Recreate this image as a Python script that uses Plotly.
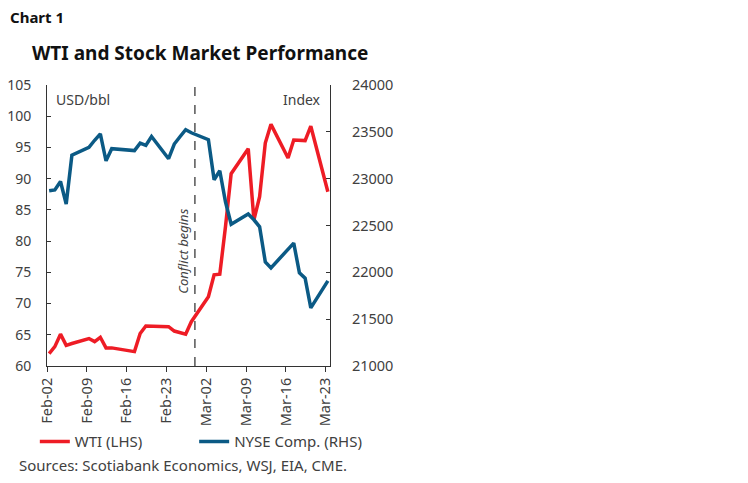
"""WTI vs NYSE Composite around the start of the conflict (Chart 1)."""

import pandas as pd
import plotly.graph_objects as go

# trading days, Feb 2 - Mar 23 2026
dates = [
    "2026-02-02", "2026-02-03", "2026-02-04", "2026-02-05", "2026-02-06",
    "2026-02-09", "2026-02-10", "2026-02-11", "2026-02-12", "2026-02-13",
    "2026-02-17", "2026-02-18", "2026-02-19", "2026-02-20",
    "2026-02-23", "2026-02-24", "2026-02-25", "2026-02-26", "2026-02-27",
    "2026-03-02", "2026-03-03", "2026-03-04", "2026-03-05", "2026-03-06",
    "2026-03-09", "2026-03-10", "2026-03-11", "2026-03-12", "2026-03-13",
    "2026-03-16", "2026-03-17", "2026-03-18", "2026-03-19", "2026-03-20",
    "2026-03-23",
]
wti = [
    62.0, 63.1, 65.1, 63.3, 63.6,
    64.4, 63.9, 64.6, 62.9, 62.9,
    62.3, 65.2, 66.4, 66.4,
    66.3, 65.6, 65.4, 65.1, 67.1,
    71.1, 74.6, 74.7, 82.3, 90.8,
    94.8, 83.4, 87.1, 95.7, 98.7,
    93.3, 96.2, 96.2, 96.1, 98.4,
    87.9,
]
nyse = [
    22870, 22880, 22970, 22730, 23250,
    23335, 23410, 23478, 23190, 23320,
    23300, 23380, 23355, 23450,
    23213, 23370, 23448, 23523, 23490,
    23416, 22988, 23085, 22753, 22513,
    22622, 22561, 22486, 22112, 22048,
    22251, 22312, 21994, 21938, 21620,
    21909,
]
tick_dates = ["2026-02-02", "2026-02-09", "2026-02-16", "2026-02-23",
              "2026-03-02", "2026-03-09", "2026-03-16", "2026-03-23"]
tick_labels = ["Feb-02", "Feb-09", "Feb-16", "Feb-23",
               "Mar-02", "Mar-09", "Mar-16", "Mar-23"]
CONFLICT_DATE = "2026-02-28"

RED = "#EE1C25"
BLUE = "#0B5A85"
AXIS = "#333333"
TEXT = "#404040"
FONT = "Noto Sans"
TICK_SIZE = 14.5

# points sit inside their day, like an Excel date axis
x = pd.to_datetime(dates) + pd.Timedelta(hours=9)

fig = go.Figure()
fig.add_trace(go.Scatter(x=x, y=wti, name="WTI (LHS)", mode="lines",
                         line=dict(color=RED, width=3.5), legend="legend"))
fig.add_trace(go.Scatter(x=x, y=nyse, name="NYSE Comp. (RHS)", mode="lines",
                         line=dict(color=BLUE, width=3.5), yaxis="y2", legend="legend2"))

fig.add_shape(type="line", xref="x", yref="paper", x0=CONFLICT_DATE, x1=CONFLICT_DATE,
              y0=0, y1=1, line=dict(color="#555555", width=1.5, dash="dash"))

ann = [
    dict(text="<i>Conflict begins</i>", x=CONFLICT_DATE, xref="x", xanchor="right",
         xshift=-1, y=0.41, yref="paper", yanchor="middle", textangle=-90,
         font=dict(size=13, color="#444444")),
    dict(text="USD/bbl", x=0.025, y=0.95, xanchor="left", yanchor="middle"),
    dict(text="Index", x=0.975, y=0.95, xanchor="right", yanchor="middle"),
    dict(text="<b>Chart 1</b>", x=-0.137, y=1.243, xanchor="left", yanchor="middle",
         font=dict(size=15, color="#111111")),
    dict(text="<b>WTI and Stock Market Performance</b>", x=0.54, y=1.115,
         xanchor="center", yanchor="middle", font=dict(size=19, color="#111111")),
    dict(text="Sources: Scotiabank Economics, WSJ, EIA, CME.", x=-0.105, y=-0.353,
         xanchor="left", yanchor="middle", font=dict(size=15, color=TEXT)),
]
for a in ann:
    a.setdefault("xref", "paper")
    a.setdefault("yref", "paper")
    a.setdefault("showarrow", False)
    a.setdefault("font", dict(size=14, color=TEXT))
    fig.add_annotation(**a)

axis_common = dict(showline=True, linecolor=AXIS, linewidth=1, showgrid=False,
                   zeroline=False, automargin=False,
                   ticks="inside", ticklen=4, tickcolor=AXIS, tickwidth=1)
legend_common = dict(orientation="h", yanchor="middle", xanchor="left", y=-0.27,
                     font=dict(size=15, color=TEXT), bgcolor="rgba(0,0,0,0)",
                     borderwidth=0)

# page body adds an 8px margin, so the figure is pulled up/left by that much
fig.update_layout(
    width=748, height=483,
    paper_bgcolor="white", plot_bgcolor="white",
    font=dict(family=FONT, size=14, color=TEXT),
    margin=dict(l=39, r=426, t=77, b=125),
    showlegend=True,
    legend=dict(x=-0.043, **legend_common),
    legend2=dict(x=0.52, **legend_common),
    xaxis=dict(type="date", range=["2026-02-02", "2026-03-23 18:00"],
               tickvals=tick_dates, ticktext=tick_labels, tickangle=-90,
               showline=True, linecolor=AXIS, linewidth=1, showgrid=False, zeroline=False,
               ticks="outside", ticklen=5, tickcolor=AXIS, automargin=False,
               tickfont=dict(size=TICK_SIZE, color=TEXT)),
    yaxis=dict(range=[60, 105], dtick=5, tick0=60, ticklabelstandoff=12,
               tickfont=dict(size=14, color=TEXT), **axis_common),
    yaxis2=dict(range=[21000, 24000], dtick=500, tick0=21000, overlaying="y", side="right",
                tickformat="d", ticklabelstandoff=18,
                tickfont=dict(size=TICK_SIZE, color=TEXT), **axis_common),
)

fig.write_html("out.html")
